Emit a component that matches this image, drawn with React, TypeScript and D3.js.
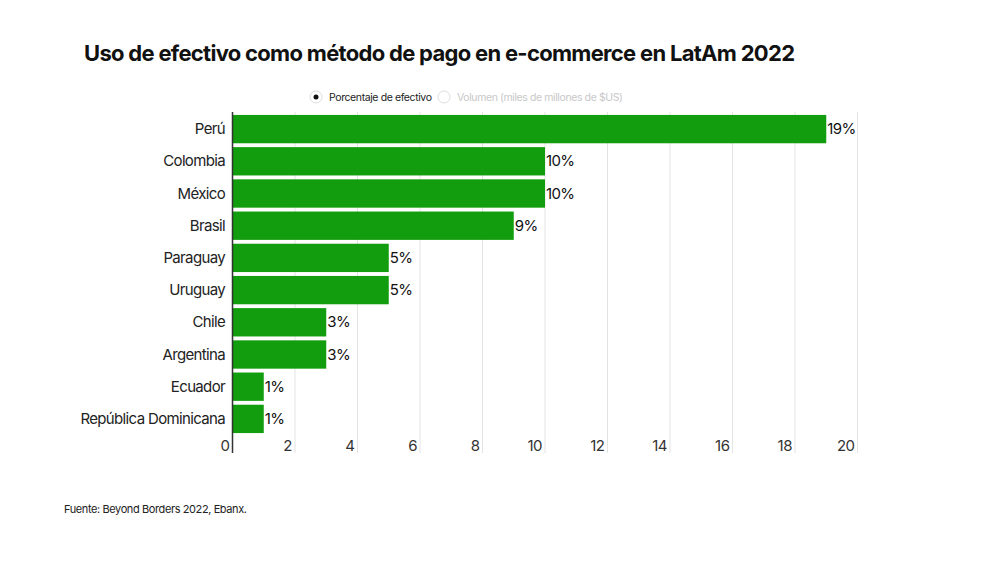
import { useEffect, useRef } from 'react'
import * as d3 from 'd3'

const countries = ['Perú', 'Colombia', 'México', 'Brasil', 'Paraguay', 'Uruguay', 'Chile', 'Argentina', 'Ecuador', 'República Dominicana']
const cashShare = [19, 10, 10, 9, 5, 5, 3, 3, 1, 1]
const xTicks = [0, 2, 4, 6, 8, 10, 12, 14, 16, 18, 20]
const legendItems = ['Porcentaje de efectivo', 'Volumen (miles de millones de $US)']

const width = 1000
const height = 562
const font = 'Inter, "Open Sans", sans-serif'

export default function App() {
  const svgRef = useRef<SVGSVGElement>(null)

  useEffect(() => {
    if (!svgRef.current) return
    const svg = d3.select(svgRef.current)
    svg.selectAll('*').remove()

    svg.append('rect').attr('width', width).attr('height', height).attr('fill', '#fff')

    // Title
    svg.append('text')
      .attr('x', 84)
      .attr('y', 61)
      .attr('font-family', font)
      .attr('font-weight', 700)
      .attr('font-size', 22)
      .attr('letter-spacing', -0.7)
      .attr('fill', '#111')
      .text('Uso de efectivo como método de pago en e-commerce en LatAm 2022')

    // Legend
    const legendX = [316, 444]
    legendItems.forEach((label, i) => {
      const g = svg.append('g').attr('transform', `translate(${legendX[i]},97)`)
      g.append('circle').attr('r', 6).attr('fill', '#fff').attr('stroke', '#ddd').attr('stroke-width', 1)
      if (i === 0) g.append('circle').attr('r', 2.5).attr('fill', '#111')
      g.append('text')
        .attr('x', 13)
        .attr('y', 4)
        .attr('font-family', font)
        .attr('font-size', 10.5)
        .attr('letter-spacing', -0.4)
        .attr('fill', i === 0 ? '#222' : '#c8c8c8')
        .text(label)
    })

    const x = d3.scaleLinear().domain([0, 20]).range([232.5, 857.5])
    const y = d3.scaleBand<string>().domain(countries).range([113, 435]).paddingInner(0.12).paddingOuter(0.06)

    // Grid
    svg.append('g')
      .selectAll('line')
      .data(xTicks.slice(1))
      .enter()
      .append('line')
      .attr('x1', (d: number) => x(d))
      .attr('x2', (d: number) => x(d))
      .attr('y1', 112)
      .attr('y2', 453)
      .attr('stroke', '#e3e3e3')
      .attr('stroke-width', 1)

    // Bars
    svg.append('g')
      .selectAll('rect')
      .data(countries)
      .enter()
      .append('rect')
      .attr('x', x(0))
      .attr('y', (d: string) => y(d)!)
      .attr('width', (_: string, i: number) => x(cashShare[i]) - x(0))
      .attr('height', y.bandwidth())
      .attr('fill', '#119d0d')

    // Value labels
    svg.append('g')
      .selectAll('text')
      .data(countries)
      .enter()
      .append('text')
      .attr('x', (_: string, i: number) => x(cashShare[i]) + 1)
      .attr('y', (d: string) => y(d)! + y.bandwidth() / 2 + 5)
      .attr('font-family', font)
      .attr('font-size', 15)
      .attr('letter-spacing', -0.6)
      .attr('fill', '#111')
      .text((_: string, i: number) => `${cashShare[i]}%`)

    // Category labels
    svg.append('g')
      .selectAll('text')
      .data(countries)
      .enter()
      .append('text')
      .attr('x', 225)
      .attr('y', (d: string) => y(d)! + y.bandwidth() / 2 + 5)
      .attr('text-anchor', 'end')
      .attr('font-family', font)
      .attr('font-size', 15)
      .attr('letter-spacing', -0.65)
      .attr('fill', '#222')
      .text((d: string) => d)

    // Axis line
    svg.append('line')
      .attr('x1', x(0))
      .attr('x2', x(0))
      .attr('y1', 112)
      .attr('y2', 453)
      .attr('stroke', '#333')
      .attr('stroke-width', 1.5)

    // X tick labels
    svg.append('g')
      .selectAll('text')
      .data(xTicks)
      .enter()
      .append('text')
      .attr('x', (d: number) => x(d) - 3)
      .attr('y', 451)
      .attr('text-anchor', 'end')
      .attr('font-family', font)
      .attr('font-size', 15)
      .attr('letter-spacing', -0.5)
      .attr('fill', '#333')
      .text((d: number) => d)

    // Source
    svg.append('text')
      .attr('x', 64)
      .attr('y', 513)
      .attr('font-family', font)
      .attr('font-size', 11)
      .attr('letter-spacing', -0.4)
      .attr('fill', '#222')
      .text('Fuente: Beyond Borders 2022, Ebanx.')
  }, [])

  return <svg ref={svgRef} width={width} height={height} style={{ display: 'block', position: 'absolute', left: 0, top: 0 }} />
}
